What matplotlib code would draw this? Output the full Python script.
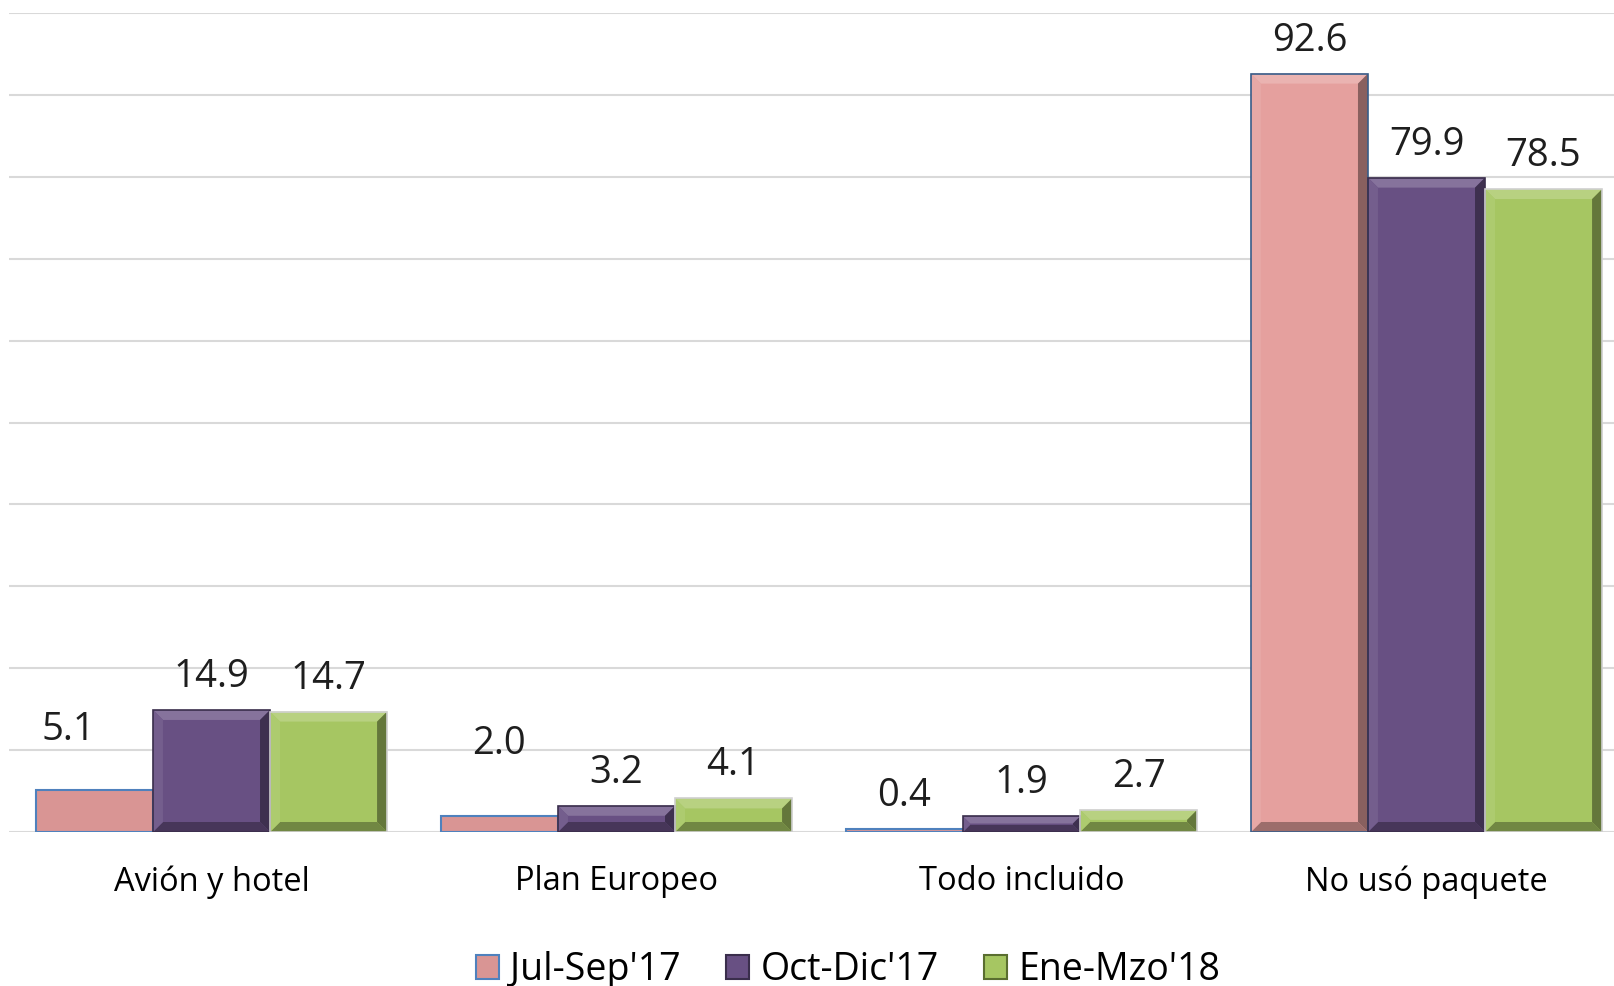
import numpy as np
import matplotlib
matplotlib.use("Agg")
from matplotlib import pyplot as plt
from matplotlib.patches import Polygon, Patch
import matplotlib.colors as mcolors

plt.rcParams['font.family'] = ['Open Sans', 'DejaVu Sans']

#Data
categories = ["Avión y hotel", "Plan Europeo", "Todo incluido", "No usó paquete"]
series_names = ["Jul-Sep'17", "Oct-Dic'17", "Ene-Mzo'18"]
jul_sep_17 = [5.1, 2.0, 0.4, 92.6]
oct_dic_17 = [14.9, 3.2, 1.9, 79.9]
ene_mzo_18 = [14.7, 4.1, 2.7, 78.5]

#Styles
colors = ["#E5A09E", "#685083", "#A6C662"]
flat_pink = "#D99594"
bar_w = 0.289

fig = plt.figure(figsize=(16.15, 9.86), dpi=100)
ax = fig.add_axes([9 / 1615, 1 - 832 / 986, 1620 / 1615, (832 - 13) / 986])
ax.set_xlim(-0.5, 3.5)
ax.set_ylim(0, 100)
ax.set_yticks(np.arange(0, 101, 10))
ax.yaxis.grid(True, color="#D9D9D9", lw=1.5)
ax.set_axisbelow(True)
ax.tick_params(axis="y", length=0, labelleft=False)
ax.tick_params(axis="x", length=0, labelsize=23.5, pad=24)
for s in ax.spines.values():
    s.set_visible(False)

x = np.arange(len(categories))
ax.set_xticks(x, categories)


def shade(c, f):
    r, g, b = mcolors.to_rgb(c)
    if f > 1:
        return (r + (1 - r) * (f - 1), g + (1 - g) * (f - 1), b + (1 - b) * (f - 1))
    return (r * f, g * f, b * f)


def bevel_bar(x0, x1, h, color, edge):
    #rectangle corners in pixels
    to_px = ax.transData
    to_data = ax.transData.inverted()
    (px0, py0), (px1, py1) = to_px.transform([(x0, 0), (x1, h)])
    b = min(10, (py1 - py0) / 2.2)
    ax.fill([x0, x1, x1, x0], [0, 0, h, h], color=color, zorder=3, lw=0)
    # top, bottom, left, right bevel faces
    faces = [
        ([(px0, py1), (px1, py1), (px1 - b, py1 - b), (px0 + b, py1 - b)], shade(color, 1.2)),
        ([(px0, py0), (px1, py0), (px1 - b, py0 + b), (px0 + b, py0 + b)], shade(color, 0.68)),
        ([(px0, py0), (px0, py1), (px0 + b, py1 - b), (px0 + b, py0 + b)], shade(color, 1.08)),
        ([(px1, py0), (px1, py1), (px1 - b, py1 - b), (px1 - b, py0 + b)], shade(color, 0.6)),
    ]
    for pts, fc in faces:
        ax.add_patch(Polygon(to_data.transform(pts), closed=True, fc=fc, ec="none", zorder=4))
    ax.add_patch(Polygon([(x0, 0), (x1, 0), (x1, h), (x0, h)], closed=True, fill=False,
                         ec=edge, lw=1.2, zorder=5))


all_series = [jul_sep_17, oct_dic_17, ene_mzo_18]
#label nudges in pixels (dx, dy above bar top), keyed by (category, series)
nudges = {(0, 0): (-26, 60), (1, 0): (0, 72)}

for si, vals in enumerate(all_series):
    for ci, v in enumerate(vals):
        x0 = ci + (si - 1.5) * bar_w
        x1 = x0 + bar_w
        if si == 0 and ci < 3:
            ax.bar(x0, v, width=bar_w, align="edge", color=flat_pink, edgecolor="#4F81BD",
                   lw=1.5, zorder=3)
        else:
            edge = "#385D8A" if si == 0 else "#D0D0D0" if si == 2 else "#3A2E4C"
            bevel_bar(x0, x1, v, colors[si], edge)
        dx, dy = nudges.get((ci, si), (0, 33))
        ax.annotate(f"{v:.1f}", xy=((x0 + x1) / 2, v), xytext=(dx * 0.72, dy * 0.72),
                    textcoords="offset points", ha="center", va="center",
                    fontsize=27.5, color="#1E1E1E", zorder=6)

handles = [Patch(facecolor=flat_pink, edgecolor="#4F81BD", lw=1.5),
           Patch(facecolor=colors[1], edgecolor="#3A2E4C", lw=1.5),
           Patch(facecolor=colors[2], edgecolor="#5A6E30", lw=1.5)]
fig.legend(handles, series_names, loc="center", bbox_to_anchor=(848 / 1615, 1 - 970 / 986),
           ncol=3, frameon=False, fontsize=27, handlelength=0.62, handleheight=0.62,
           handletextpad=0.3, columnspacing=1.2, borderpad=0, labelcolor="#000000")

fig.savefig("out.png", dpi=100)
